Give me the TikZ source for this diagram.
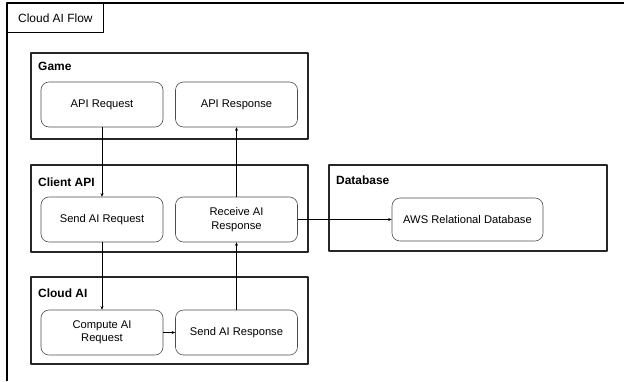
\documentclass[tikz,border=0pt]{standalone}
\usepackage{fontspec}
\setmainfont{Liberation Sans}
\usetikzlibrary{arrows.meta}

\begin{document}
\begin{tikzpicture}[
  x=1bp,
  y=-1bp,
  line join=round,
  group/.style={
    draw=black!85,
    line width=1.1pt,
    inner sep=0pt
  },
  grouplabel/.style={
    anchor=west,
    inner sep=0pt,
    font=\fontsize{12}{14}\selectfont\bfseries
  },
  step box/.style={
    draw=black!70,
    line width=0.6pt,
    rounded corners=8bp,
    minimum width=122bp,
    minimum height=45bp,
    align=center,
    inner sep=1pt,
    font=\fontsize{11.2}{13.5}\selectfont
  },
  flow/.style={
    -{Stealth[length=3.5pt,width=3pt]},
    line width=0.5pt
  }
]
  % Seitenformat wie in der Vorlage
  \useasboundingbox (0,0) rectangle (624,381);

  % Rahmen des Diagramms
  \draw[line width=1.1pt]
    (7,381) -- (7,3) -- (624,3);

  \node[
    draw,
    line width=0.8pt,
    anchor=north west,
    minimum width=96bp,
    minimum height=29bp,
    inner sep=0pt,
    font=\fontsize{12}{14}\selectfont
  ] (title) at (7,3) {Cloud AI Flow};

  % Gruppen
  \node[group, minimum width=277bp, minimum height=86bp]
    (game) at (169.5,96) {};
  \node[group, minimum width=277bp, minimum height=87bp]
    (client) at (169.5,208.5) {};
  \node[group, minimum width=277bp, minimum height=87bp]
    (cloud) at (169.5,320.5) {};
  \node[group, minimum width=278bp, minimum height=86bp]
    (db) at (468,208) {};

  \node[grouplabel] (gamelabel) at (38,66) {Game};
  \node[grouplabel] (clientlabel) at (38,182) {Client API};
  \node[grouplabel] (cloudlabel) at (38,293) {Cloud AI};
  \node[grouplabel] (dblabel) at (336,180) {Database};

  % Schritte
  \node[step box] (apireq) at (102,104.5) {API Request};
  \node[step box] (apiresp) at (236.5,104.5) {API Response};

  \node[step box] (sendreq) at (102,219.5) {Send AI Request};
  \node[step box] (recvresp) at (236.5,219.5) {Receive AI\\Response};

  \node[step box] (compute) at (102,332.5) {Compute AI\\Request};
  \node[step box] (sendresp) at (236.5,332.5) {Send AI Response};

  \node[step box, minimum width=151bp, minimum height=43bp]
    (aws) at (467.5,219.5) {AWS Relational Database};

  % Verbindungen
  \draw[flow] (apireq) -- (sendreq);
  \draw[flow] (sendreq) -- (compute);
  \draw[flow] (compute) -- (sendresp);
  \draw[flow] (sendresp) -- (recvresp);
  \draw[flow] (recvresp) -- (apiresp);
  \draw[flow] (recvresp) -- (aws);
\end{tikzpicture}
\end{document}
